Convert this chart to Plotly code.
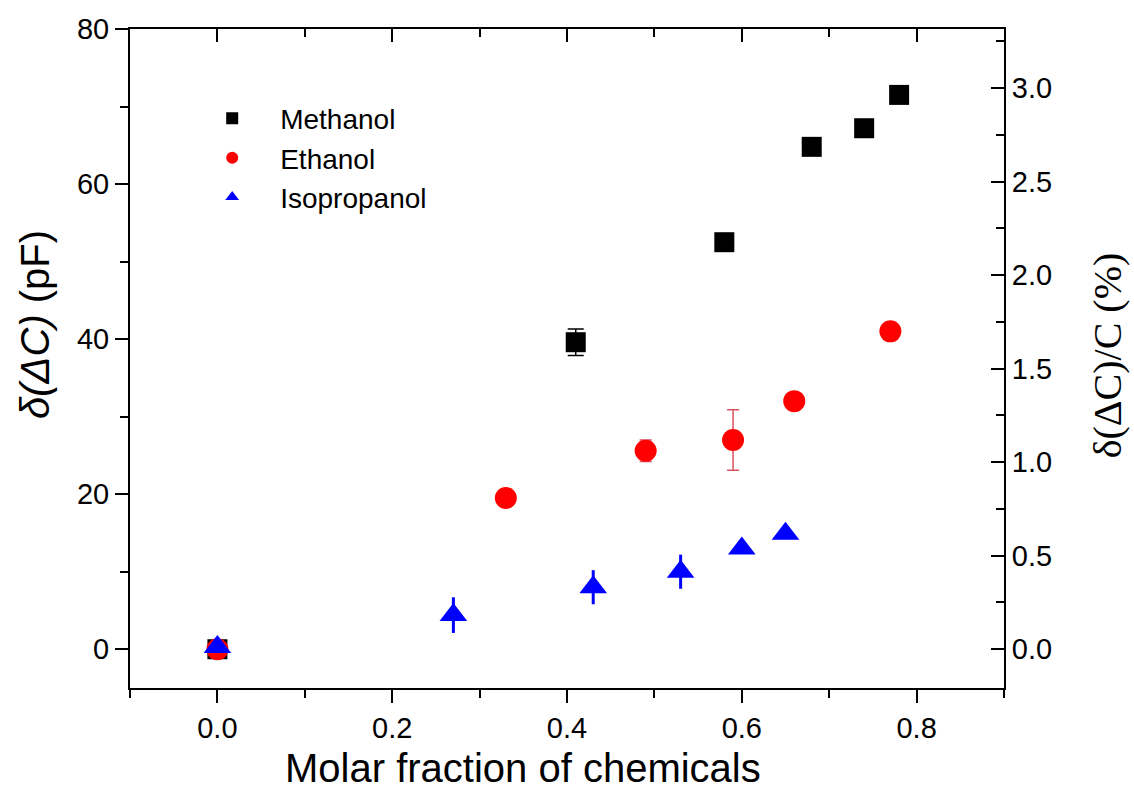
import plotly.graph_objects as go

# ---------------- data ----------------
meth_x = [0.0, 0.41, 0.58, 0.68, 0.74, 0.78]
meth_y = [0.0, 39.6, 52.5, 64.8, 67.2, 71.5]
meth_err = [0.0, 1.7, 0.0, 0.0, 0.0, 0.0]

eth_x = [0.0, 0.33, 0.49, 0.59, 0.66, 0.77]
eth_y = [0.0, 19.5, 25.6, 27.0, 32.0, 41.0]
eth_err = [0.0, 0.0, 1.4, 3.9, 0.0, 0.0]

iso_x = [0.0, 0.27, 0.43, 0.53, 0.60, 0.65]
iso_y = [0.3, 4.4, 8.0, 10.0, 13.0, 14.9]
iso_err = [0.0, 2.3, 2.2, 2.2, 0.0, 0.0]

x_ticks = [0.0, 0.2, 0.4, 0.6, 0.8]
y_ticks = [0, 20, 40, 60, 80]
y2_ticks = [0.0, 0.5, 1.0, 1.5, 2.0, 2.5, 3.0]

pf_per_percent = 24.13  # right axis scale: pF per %
x_range = [-0.1, 0.9]
y_range = [-5, 80]

FONT = "Arial, Liberation Sans, sans-serif"
SERIF = "Times New Roman, Liberation Serif, serif"

fig = go.Figure()

fig.add_trace(go.Scatter(
    x=meth_x, y=meth_y, mode="markers", name="Methanol",
    marker=dict(symbol="square", size=20, color="black"),
    error_y=dict(type="data", array=meth_err, visible=True, color="black",
                 thickness=1.5, width=8),
))
fig.add_trace(go.Scatter(
    x=eth_x, y=eth_y, mode="markers", name="Ethanol",
    marker=dict(symbol="circle", size=22, color="#ff0000"),
    error_y=dict(type="data", array=eth_err, visible=True, color="#d9505f",
                 thickness=1.5, width=6),
))
fig.add_trace(go.Scatter(
    x=iso_x, y=iso_y, mode="markers", name="Isopropanol",
    marker=dict(symbol="triangle-up", size=24, color="#0000ff"),
    error_y=dict(type="data", array=iso_err, visible=True, color="#0000ff",
                 thickness=3, width=0),
))
# invisible trace to activate the right axis
fig.add_trace(go.Scatter(x=[x_range[0]], y=[0], yaxis="y2", xaxis="x",
                         mode="markers", marker=dict(opacity=0),
                         showlegend=False, hoverinfo="skip"))
# invisible trace to activate the top axis
fig.add_trace(go.Scatter(x=[x_range[0]], y=[0], xaxis="x2", yaxis="y",
                         mode="markers", marker=dict(opacity=0),
                         showlegend=False, hoverinfo="skip"))

axis_common = dict(showline=True, linecolor="black", linewidth=2,
                   showgrid=False, zeroline=False, tickcolor="black",
                   tickwidth=2, tickfont=dict(family=FONT, size=29, color="black"))

fig.update_layout(
    width=1134, height=793,
    margin=dict(l=130, r=130, t=29, b=105),
    paper_bgcolor="white", plot_bgcolor="white",
    font=dict(family=FONT, color="black"),
    xaxis=dict(range=x_range, tickvals=x_ticks, tickformat=".1f",
               ticks="outside", ticklen=13,
               minor=dict(dtick=0.1, ticks="outside", ticklen=8,
                          tickwidth=2, tickcolor="black"),
               **axis_common),
    xaxis2=dict(range=x_range, overlaying="x", side="top", tickvals=x_ticks,
                ticks="inside", ticklen=13, showticklabels=False,
                minor=dict(dtick=0.1, ticks="inside", ticklen=8,
                           tickwidth=2, tickcolor="black"),
                **axis_common),
    yaxis=dict(range=y_range, tickvals=y_ticks, ticks="outside", ticklen=13,
               minor=dict(dtick=10, ticks="outside", ticklen=8,
                          tickwidth=2, tickcolor="black"),
               **axis_common),
    yaxis2=dict(range=[y_range[0] / pf_per_percent, y_range[1] / pf_per_percent],
                overlaying="y", side="right", tickvals=y2_ticks,
                tickformat=".1f", ticks="inside", ticklen=13,
                minor=dict(dtick=0.25, ticks="inside", ticklen=8,
                           tickwidth=2, tickcolor="black"),
                **axis_common),
    legend=dict(x=0.062, y=0.902, xanchor="left", yanchor="top",
                bgcolor="rgba(0,0,0,0)", itemsizing="constant",
                font=dict(family=FONT, size=28, color="black"),
                tracegroupgap=0, itemwidth=86),
    showlegend=True,
    annotations=[
        dict(text="Molar fraction of chemicals", xref="paper", yref="paper",
             x=0.45, y=-0.121, xanchor="center", yanchor="middle",
             showarrow=False, font=dict(family=FONT, size=40, color="black")),
        dict(text="<i>δ(ΔC)</i> (pF)", xref="paper", yref="paper",
             x=-0.109, y=0.552, xanchor="center", yanchor="middle",
             textangle=-90, showarrow=False,
             font=dict(family=FONT, size=40, color="black")),
        dict(text="δ(ΔC)/C (%)", xref="paper", yref="paper",
             x=1.118, y=0.505, xanchor="center", yanchor="middle",
             textangle=-90, showarrow=False,
             font=dict(family=SERIF, size=40, color="black")),
    ],
)

fig.write_html("out.html")
